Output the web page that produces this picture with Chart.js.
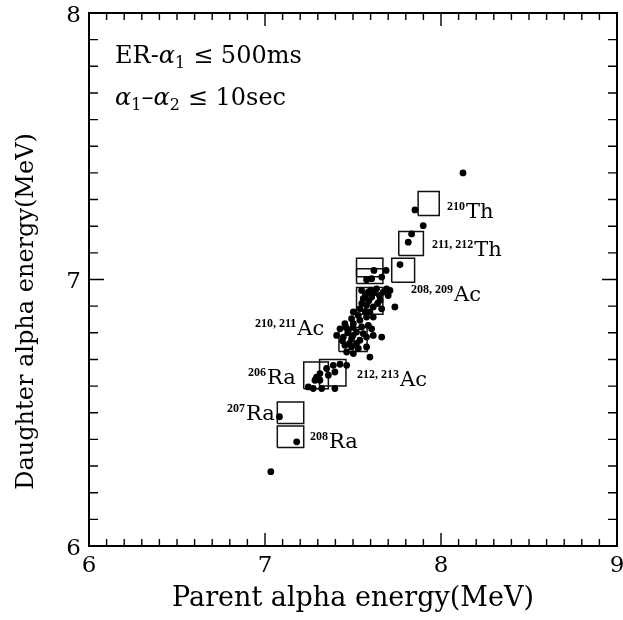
<!DOCTYPE html>
<html>
<head>
<meta charset="utf-8">
<script src="https://cdn.jsdelivr.net/npm/chart.js@4.4.1/dist/chart.umd.min.js"></script>
<style>
  html, body { margin: 0; padding: 0; background: #fff; }
  #wrap { width: 623px; height: 620px; }
</style>
</head>
<body>
<div id="wrap"><canvas id="alphaChart" width="623" height="620"></canvas></div>
<script>
// parent / daughter alpha energies of the correlated events (MeV)
const parentE = [
  8.125, 7.852, 7.899, 7.833, 7.814, 7.767, 7.688, 7.619, 7.663, 7.606,
  7.577, 7.691, 7.710, 7.549, 7.587, 7.634, 7.672, 7.558, 7.606, 7.653,
  7.577, 7.615, 7.663, 7.539, 7.596, 7.700, 7.738, 7.502, 7.530, 7.492,
  7.539, 7.577, 7.615, 7.454, 7.502, 7.549, 7.587, 7.426, 7.473, 7.520,
  7.558, 7.606, 7.407, 7.445, 7.492, 7.539, 7.577, 7.615, 7.663, 7.454,
  7.492, 7.530, 7.464, 7.502, 7.596, 7.577, 7.388, 7.426, 7.350, 7.312,
  7.293, 7.284, 7.312, 7.360, 7.397, 7.464, 7.246, 7.274, 7.322, 7.397,
  7.082, 7.180, 7.033,
  7.570, 7.620, 7.550, 7.640, 7.590, 7.600, 7.570, 7.650,
  7.470, 7.500, 7.480, 7.520, 7.440, 7.500, 7.460
];
const daughterE = [
  7.400, 7.261, 7.202, 7.171, 7.140, 7.056, 7.034, 7.034, 7.009, 7.003,
  6.999, 6.965, 6.959, 6.959, 6.953, 6.965, 6.953, 6.928, 6.934, 6.922,
  6.903, 6.897, 6.890, 6.890, 6.878, 6.940, 6.897, 6.878, 6.865, 6.853,
  6.847, 6.859, 6.859, 6.834, 6.834, 6.822, 6.828, 6.815, 6.809, 6.803,
  6.797, 6.815, 6.790, 6.784, 6.778, 6.772, 6.784, 6.790, 6.784, 6.753,
  6.747, 6.741, 6.728, 6.722, 6.709, 6.747, 6.678, 6.682, 6.666, 6.647,
  6.634, 6.622, 6.622, 6.641, 6.653, 6.678, 6.597, 6.591, 6.591, 6.591,
  6.485, 6.391, 6.279,
  6.940, 6.950, 6.910, 6.910, 6.920, 6.960, 6.880, 6.940,
  6.800, 6.790, 6.760, 6.760, 6.770, 6.820, 6.820
];

// expected energy windows of the known isotopes
const boxX0 = [7.87, 7.76, 7.72, 7.52, 7.52, 7.52, 7.42, 7.22, 7.31, 7.07, 7.07];
const boxX1 = [7.99, 7.90, 7.85, 7.67, 7.67, 7.67, 7.58, 7.36, 7.46, 7.22, 7.22];
const boxY0 = [7.24, 7.09, 6.99, 7.01, 6.985, 6.87, 6.73, 6.59, 6.60, 6.46, 6.37];
const boxY1 = [7.33, 7.18, 7.08, 7.08, 7.04, 6.97, 6.82, 6.69, 6.70, 6.54, 6.45];

// isotope labels, anchored at (parent, daughter) energy of the text baseline
const isoMass = ['210', '211, 212', '208, 209', '210, 211', '206', '212, 213', '207', '208'];
const isoSym  = ['Th', 'Th', 'Ac', 'Ac', 'Ra', 'Ac', 'Ra', 'Ra'];
const isoX    = [8.034, 7.949, 7.830, 6.943, 6.903, 7.523, 6.784, 7.256];
const isoY    = [7.232, 7.090, 6.920, 6.790, 6.607, 6.600, 6.472, 6.367];

const xTicks = [6, 7, 8, 9];
const yTicks = [6, 7, 8];

const SERIF = '"DejaVu Serif", "Liberation Serif", serif';

const points = parentE.map((x, i) => ({ x: x, y: daughterE[i] }));

const boxSets = boxX0.map((x0, i) => ({
  type: 'scatter',
  showLine: true,
  data: [
    { x: x0, y: boxY0[i] }, { x: boxX1[i], y: boxY0[i] },
    { x: boxX1[i], y: boxY1[i] }, { x: x0, y: boxY1[i] },
    { x: x0, y: boxY0[i] }
  ],
  borderColor: '#111',
  borderWidth: 1.5,
  pointRadius: 0,
  fill: false,
  order: 2
}));

// draw a run of text pieces (sub/superscripts, italics) left to right
function drawRuns(ctx, x, y, runs) {
  runs.forEach(r => {
    ctx.font = (r.style || '') + ' ' + (r.weight || 'normal') + ' ' + r.size + 'px ' + (r.family || SERIF);
    ctx.fillText(r.t, x, y + (r.dy || 0));
    x += ctx.measureText(r.t).width + (r.gap || 0);
  });
}

const framePlugin = {
  id: 'frame',
  beforeDatasetsDraw(chart) {
    const { ctx, chartArea: a, scales: { x, y } } = chart;
    ctx.save();
    ctx.strokeStyle = '#000';
    ctx.lineWidth = 2;
    ctx.strokeRect(a.left, a.top, a.right - a.left, a.bottom - a.top);
    ctx.lineWidth = 1.4;
    ctx.beginPath();
    // inward ticks every 0.1 MeV on all four sides
    for (let i = 1; i < 30; i++) {
      const v = 6 + i / 10;
      const px = x.getPixelForValue(v);
      const len = i % 10 === 0 ? 13 : 7;
      ctx.moveTo(px, a.bottom); ctx.lineTo(px, a.bottom - len);
      ctx.moveTo(px, a.top); ctx.lineTo(px, a.top + len);
    }
    for (let i = 1; i < 20; i++) {
      const v = 6 + i / 10;
      const py = y.getPixelForValue(v);
      const len = i % 10 === 0 ? 15 : 9;
      ctx.moveTo(a.left, py); ctx.lineTo(a.left + len, py);
      ctx.moveTo(a.right, py); ctx.lineTo(a.right - len, py);
    }
    ctx.stroke();
    ctx.restore();
  },
  afterDatasetsDraw(chart) {
    const { ctx, scales: { x, y } } = chart;
    ctx.save();
    ctx.fillStyle = '#000';
    ctx.textBaseline = 'alphabetic';
    ctx.textAlign = 'left';

    isoMass.forEach((m, i) => {
      const px = x.getPixelForValue(isoX[i]);
      const py = y.getPixelForValue(isoY[i]);
      drawRuns(ctx, px, py, [
        { t: m, size: 12, weight: 'bold', dy: -8, gap: 1, family: '"Liberation Serif", serif' },
        { t: isoSym[i], size: 21 }
      ]);
    });

    // coincidence conditions
    const tx = x.getPixelForValue(6.148);
    drawRuns(ctx, tx, y.getPixelForValue(7.812), [
      { t: 'ER-', size: 24 },
      { t: 'α', size: 24, style: 'italic' },
      { t: '1', size: 16, dy: 5, gap: 8 },
      { t: '≤ 500ms', size: 24 }
    ]);
    drawRuns(ctx, tx, y.getPixelForValue(7.654), [
      { t: 'α', size: 24, style: 'italic' },
      { t: '1', size: 16, dy: 5 },
      { t: '–', size: 24 },
      { t: 'α', size: 24, style: 'italic' },
      { t: '2', size: 16, dy: 5, gap: 8 },
      { t: '≤ 10sec', size: 24 }
    ]);

    // vertical axis title, sitting a little below the plot centre
    ctx.translate(27, y.getPixelForValue(6.88));
    ctx.rotate(-Math.PI / 2);
    ctx.textAlign = 'center';
    ctx.textBaseline = 'middle';
    ctx.font = '24px ' + SERIF;
    ctx.fillText('Daughter alpha energy(MeV)', 0, 0);
    ctx.restore();
  }
};

new Chart(document.getElementById('alphaChart').getContext('2d'), {
  type: 'scatter',
  data: {
    datasets: [{
      data: points,
      backgroundColor: '#000',
      borderColor: '#000',
      pointRadius: 3.4,
      pointBorderWidth: 0,
      order: 1
    }].concat(boxSets)
  },
  options: {
    responsive: false,
    animation: false,
    devicePixelRatio: 1,
    layout: { autoPadding: false, padding: { top: 13, right: 6, left: 0, bottom: 0 } },
    plugins: {
      legend: { display: false },
      tooltip: { enabled: false }
    },
    scales: {
      x: {
        type: 'linear',
        min: 6,
        max: 9,
        afterBuildTicks: s => { s.ticks = xTicks.map(v => ({ value: v })); },
        afterFit: s => { s.height = 74; s.paddingLeft = 0; s.paddingRight = 0; },
        ticks: { color: '#000', font: { family: SERIF, size: 23 }, padding: 6, maxRotation: 0 },
        grid: { display: false, drawTicks: false },
        border: { display: false },
        title: {
          display: true,
          text: 'Parent alpha energy(MeV)',
          color: '#000',
          font: { family: SERIF, size: 27 },
          padding: { top: 0, bottom: 5 }
        }
      },
      y: {
        type: 'linear',
        min: 6,
        max: 8,
        afterBuildTicks: s => { s.ticks = yTicks.map(v => ({ value: v })); },
        afterFit: s => { s.width = 89; s.paddingTop = 0; s.paddingBottom = 0; },
        ticks: { color: '#000', font: { family: SERIF, size: 23 }, padding: 8, labelOffset: 3 },
        grid: { display: false, drawTicks: false },
        border: { display: false }
      }
    }
  },
  plugins: [framePlugin]
});
</script>
</body>
</html>
